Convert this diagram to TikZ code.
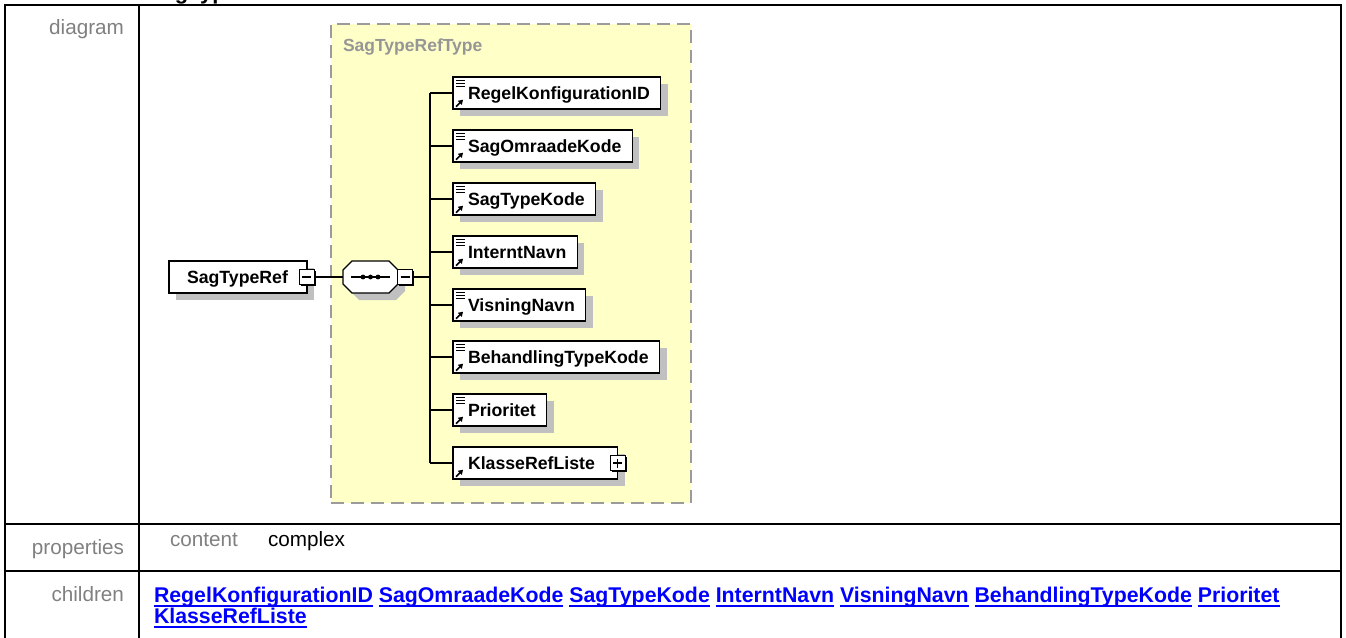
\documentclass[tikz,border=0pt]{standalone}
\usepackage{fontspec}
\setmainfont{Liberation Sans}
\usetikzlibrary{shadows,calc,arrows.meta}
\definecolor{boxyellow}{RGB}{255,255,200}
\definecolor{dashgrey}{RGB}{155,155,155}
\definecolor{labelgrey}{RGB}{128,128,128}
\definecolor{typegrey}{RGB}{150,150,150}
\definecolor{shadowgrey}{RGB}{192,192,192}
\definecolor{linkblue}{RGB}{0,0,255}
\newcommand\lnk[1]{\setbox0\hbox{#1}\rlap{\rule[-4.8pt]{\wd0}{2.2pt}}\box0\relax}
\newcommand\refarrow[1]{\draw[line width=1.6pt,-{Triangle[length=4.5pt,width=5.5pt]}] ($(#1.south west)+(3,-2.3)$) -- ++(7,-7);}
\newcommand\elemicon[1]{%
  \draw[line width=0.9pt] ($(#1.north west)+(3,3)$) -- ++(8.5,0)
    ($(#1.north west)+(3,6.3)$) -- ++(8.5,0)
    ($(#1.north west)+(3,9.6)$) -- ++(8.5,0);
  \refarrow{#1}}
\begin{document}
\begin{tikzpicture}[x=1pt,y=-1pt,
  every node/.style={inner sep=0pt, outer sep=0pt},
  tableline/.style={line width=2pt, black},
  labeltext/.style={text=labelgrey, font=\fontsize{20.7}{24}\selectfont},
  valtext/.style={text=black, font=\fontsize{20.7}{24}\selectfont},
  linktext/.style={text=linkblue, font=\fontsize{21.3}{25}\selectfont\bfseries},
  typebox/.style={draw=dashgrey, fill=boxyellow, line width=1.6pt, dash pattern=on 13pt off 7pt},
  typelabel/.style={text=typegrey, font=\fontsize{17.5}{20}\selectfont\bfseries},
  elembox/.style={draw=black, fill=white, line width=1.1pt, minimum height=32pt,
    inner xsep=11pt, anchor=west, text height=12.6pt, text depth=0pt,
    font=\fontsize{17.7}{20}\selectfont\bfseries,
    drop shadow={shadow xshift=7pt, shadow yshift=-7pt, fill=shadowgrey, opacity=1}},
  sqbox/.style={draw=black, fill=white, line width=1.1pt, minimum size=15pt,
    drop shadow={shadow xshift=1.5pt, shadow yshift=-1.5pt, fill=black, opacity=1}},
  seqframe/.style={minimum width=55pt, minimum height=32pt},
  octpath/.style 2 args={insert path={
    ($(seq.north west)+(9+#1,#2)$) -- ($(seq.north east)+(-9+#1,#2)$) --
    ($(seq.north east)+(#1,9+#2)$) -- ($(seq.south east)+(#1,-9+#2)$) --
    ($(seq.south east)+(-9+#1,#2)$) -- ($(seq.south west)+(9+#1,#2)$) --
    ($(seq.south west)+(#1,-9+#2)$) -- ($(seq.north west)+(#1,9+#2)$) -- cycle}},
  conn/.style={line width=1.1pt, black}]
\useasboundingbox (0,0) rectangle (1346,637);
% clipped heading
\node[anchor=base west, font=\fontsize{22}{26}\selectfont\bfseries] (title) at (148,0) {\llap{element }SagTypeRef};
% table
\draw[tableline] (5,640) -- (5,5) -- (1341,5) -- (1341,640);
\draw[tableline] (139,5) -- (139,640);
\draw[tableline] (5,524) -- (1341,524);
\draw[tableline] (5,571) -- (1341,571);
\node[labeltext, anchor=base east] (lbldiag) at (124,34) {diagram};
\node[labeltext, anchor=base east] (lblprop) at (124,554) {properties};
\node[labeltext, anchor=base east] (lblchild) at (124,601) {children};
\node[labeltext, anchor=base west] (content) at (170,546) {content};
\node[valtext, anchor=base west] (complex) at (268,546) {complex};
\node[linktext, anchor=base west] (links1) at (154,602) {\lnk{RegelKonfigurationID} \lnk{SagOmraadeKode} \lnk{SagTypeKode} \lnk{InterntNavn} \lnk{VisningNavn} \lnk{BehandlingTypeKode} \lnk{Prioritet}};
\node[linktext, anchor=base west] (links2) at (154,623.5) {\lnk{KlasseRefListe}};
% type box
\node[typebox, minimum width=360pt, minimum height=479pt, anchor=north west] (tbox) at (331,24) {};
\node[typelabel, anchor=west] (tlabel) at (343,47) {SagTypeRefType};
% root element
\node[elembox] (root) at (169,277) {\hspace*{7pt}SagTypeRef\hspace*{8pt}};
\node[sqbox] (rootm) at (root.east) {};
\draw[line width=1.1pt] ($(rootm.center)+(-4.5,0)$) -- ($(rootm.center)+(4.5,0)$);
% sequence
\node[seqframe] (seq) at (370.5,277) {};
\fill[shadowgrey, octpath={7}{7}];
\filldraw[fill=white, draw=black, line width=1.1pt, octpath={0}{0}];
\draw[line width=1.1pt] ($(seq.west)+(8,0)$) -- ($(seq.east)+(-8,0)$);
\fill ($(seq.center)+(-7.5,0)$) circle (2.4);
\fill (seq.center) circle (2.4);
\fill ($(seq.center)+(7.5,0)$) circle (2.4);
\node[sqbox] (seqm) at (405,277) {};
\draw[line width=1.1pt] ($(seqm.center)+(-4.5,0)$) -- ($(seqm.center)+(4.5,0)$);
% children
\node[elembox] (c1) at (453,93) {\hspace*{4pt}RegelKonfigurationID};
\node[elembox] (c2) at (453,146) {\hspace*{4pt}SagOmraadeKode};
\node[elembox] (c3) at (453,199) {\hspace*{4pt}SagTypeKode};
\node[elembox] (c4) at (453,252) {\hspace*{4pt}InterntNavn};
\node[elembox] (c5) at (453,305) {\hspace*{4pt}VisningNavn};
\node[elembox] (c6) at (453,357) {\hspace*{4pt}BehandlingTypeKode};
\node[elembox] (c7) at (453,410) {\hspace*{4pt}Prioritet};
\node[elembox] (c8) at (453,463) {\hspace*{4pt}KlasseRefListe\hspace*{12pt}};
\foreach \n in {c1,c2,c3,c4,c5,c6,c7} {\elemicon{\n}}
\refarrow{c8}
\node[sqbox] (c8p) at (c8.east) {};
\draw[line width=1.1pt] ($(c8p.center)+(-4.5,0)$) -- ($(c8p.center)+(4.5,0)$)
  ($(c8p.center)+(0,-4.5)$) -- ($(c8p.center)+(0,4.5)$);
% connectors
\coordinate (bar) at (430,277);
\draw[conn] (rootm.east) -- (seq.west);
\draw[conn] (seqm.east) -- (bar);
\draw[conn] (bar |- c1.west) -- (bar |- c8.west);
\foreach \n in {c1,c2,c3,c4,c5,c6,c7,c8} {\draw[conn] (bar |- \n.west) -- (\n.west);}
\end{tikzpicture}
\end{document}
